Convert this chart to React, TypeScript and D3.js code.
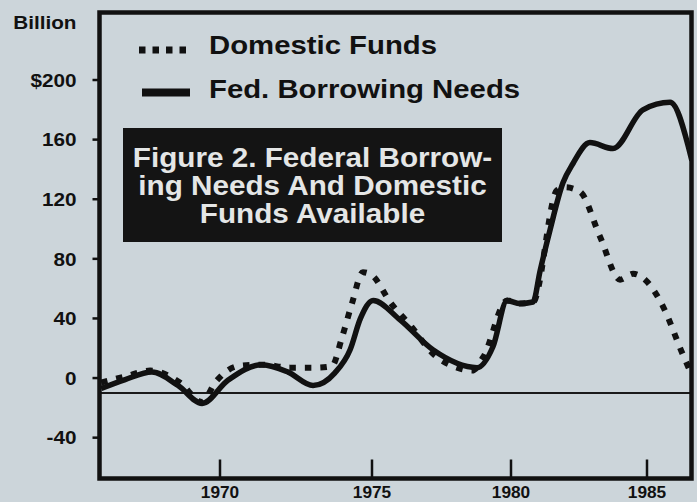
import React from "react";
import * as d3 from "d3";

// ---- data ----
const fedYears = [1966.09, 1966.88, 1967.76, 1968.62, 1969.41, 1970.26, 1971.38, 1972.24, 1973.06, 1973.78, 1974.28, 1974.62, 1975.04, 1976.01, 1977.19, 1978.78, 1979.35, 1979.86, 1980.33, 1980.81, 1981.07, 1981.43, 1981.91, 1982.28, 1982.9, 1983.75, 1984.85, 1985.85, 1986.65];
const fedValues = [-7, -1, 4, -5, -17, -1.5, 9, 4, -5, 3.5, 19, 40, 52, 39, 19, 7, 21, 52, 50, 51, 72, 99, 131, 144, 158, 154, 180, 185, 146];

const domYears = [1966.09, 1966.88, 1967.7, 1968.68, 1969.41, 1969.84, 1970.59, 1971.38, 1972.3, 1973.13, 1973.68, 1974.01, 1974.34, 1974.7, 1975.0, 1975.65, 1976.44, 1977.16, 1978.06, 1978.6, 1979.0, 1979.86, 1980.33, 1980.81, 1981.69, 1981.99, 1982.54, 1983.27, 1984.01, 1984.49, 1984.93, 1985.59, 1986.29, 1986.65];
const domValues = [-3, 1, 5, -3, -16, -3, 8, 9, 7, 7, 8, 27, 50, 71, 69, 51, 34, 17, 7, 5, 14, 52, 50, 51, 126, 128, 125, 95, 66, 70, 66, 48, 17, 2];

const yTicks = [-40, 0, 40, 80, 120, 160, 200];
const yTickLabels = ["-40", "0", "40", "80", "120", "160", "$200"];
const xTicks = [1970, 1975, 1980, 1985];
const xTickLabels = ["1970", "1975", "1980", "1985"];
const refValue = -10;

const seriesNames = ["Domestic Funds", "Fed. Borrowing Needs"];
const titleLines = ["Figure 2. Federal Borrow-", "ing Needs And Domestic", "Funds Available"];

// ---- layout ----
const W = 697;
const H = 502;
const left = 99.5;
const right = 691.5;
const top = 12.5;
const bottom = 478.5;
const BG = "#ccd5da";
const FONT = "'Liberation Sans', Arial, Helvetica, sans-serif";

const x = d3
  .scaleLinear()
  .domain([1966, 1970, 1975, 1980, 1985, 1987])
  .range([98.4, 220, 372, 511, 647, 701.4]);
const y = d3.scaleLinear().domain([-67.4, 245.3]).range([bottom, top]);

type P = [number, number];
const fedData: P[] = fedYears.map((yr, i) => [yr, fedValues[i]]);
const domData: P[] = domYears.map((yr, i) => [yr, domValues[i]]);

const line = d3
  .line<P>()
  .x((d) => x(d[0]))
  .y((d) => y(d[1]))
  .curve(d3.curveMonotoneX);

function SText(props: {
  x: number;
  y: number;
  sx: number;
  size: number;
  anchor?: string;
  fill?: string;
  children: React.ReactNode;
}) {
  const { x: tx, y: ty, sx, size, anchor = "start", fill = "#111", children } = props;
  return (
    <text
      transform={`translate(${tx},${ty}) scale(${sx},1)`}
      fontSize={size}
      fontWeight="bold"
      fontFamily={FONT}
      textAnchor={anchor}
      fill={fill}
    >
      {children}
    </text>
  );
}

export default function App() {
  return (
    <svg
      width={W}
      height={H}
      style={{ position: "absolute", left: 0, top: 0, display: "block" }}
    >
      <rect x={0} y={0} width={W} height={H} fill={BG} />
      <defs>
        <clipPath id="plot">
          <rect x={left} y={top} width={right - left} height={bottom - top} />
        </clipPath>
      </defs>

      {/* reference line */}
      <line x1={left} x2={right} y1={y(refValue)} y2={y(refValue)} stroke="#1a1a1a" strokeWidth={2} />

      {/* series */}
      <g clipPath="url(#plot)">
        <path
          d={line(domData) || ""}
          fill="none"
          stroke="#111"
          strokeWidth={6}
          strokeDasharray="6.5,9"
          strokeLinecap="butt"
        />
        <path
          d={line(fedData) || ""}
          fill="none"
          stroke="#111"
          strokeWidth={5.5}
          strokeLinejoin="round"
        />
      </g>

      {/* frame */}
      <rect
        x={left}
        y={top}
        width={right - left}
        height={bottom - top}
        fill="none"
        stroke="#111"
        strokeWidth={4.5}
      />

      {/* y ticks */}
      {yTicks.map((t, i) => (
        <g key={t}>
          <line x1={left - 7} x2={left} y1={y(t)} y2={y(t)} stroke="#111" strokeWidth={2.5} />
          <SText x={76.5} y={y(t) + 6.7} sx={1.12} size={18.5} anchor="end">
            {yTickLabels[i]}
          </SText>
        </g>
      ))}
      <SText x={76.5} y={28.5} sx={1.12} size={18.5} anchor="end">
        Billion
      </SText>

      {/* x ticks */}
      {xTicks.map((t, i) => (
        <g key={t}>
          <line x1={x(t)} x2={x(t)} y1={bottom - 19} y2={bottom} stroke="#111" strokeWidth={2.5} />
          <SText x={x(t)} y={498} sx={1.08} size={16} anchor="middle">
            {xTickLabels[i]}
          </SText>
        </g>
      ))}

      {/* legend */}
      <line x1={139} x2={192} y1={50} y2={50} stroke="#111" strokeWidth={7} strokeDasharray="6.5,7" />
      <line x1={142} x2={190} y1={92.5} y2={92.5} stroke="#111" strokeWidth={8} />
      <SText x={209} y={53.5} sx={1.15} size={25.5}>
        {seriesNames[0]}
      </SText>
      <SText x={209} y={98} sx={1.15} size={25.5}>
        {seriesNames[1]}
      </SText>

      {/* title box */}
      <rect x={123} y={128} width={379} height={114} fill="#141414" />
      {titleLines.map((t, i) => (
        <SText key={t} x={312.5} y={166.7 + i * 28.3} sx={1.06} size={28} anchor="middle" fill="#e4e6e6">
          {t}
        </SText>
      ))}
    </svg>
  );
}
